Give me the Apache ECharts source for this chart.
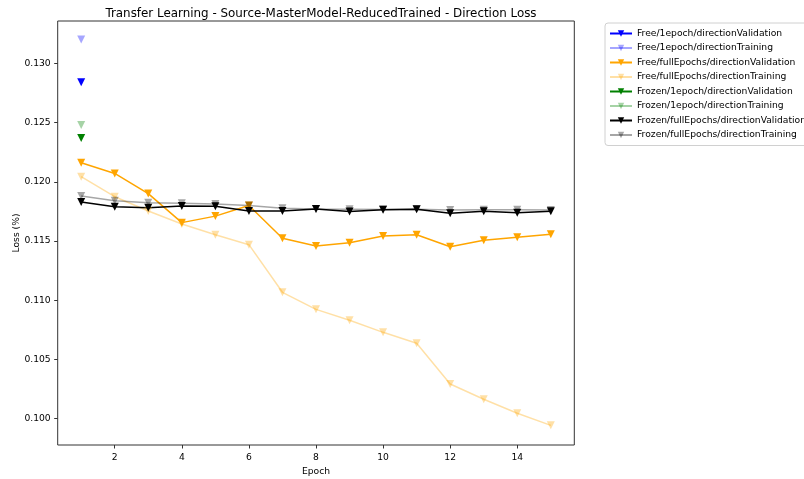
<!DOCTYPE html>
<html>
<head>
<meta charset="utf-8">
<script src="https://cdn.jsdelivr.net/npm/echarts@6/dist/echarts.min.js"></script>
<style>
  html, body { margin: 0; padding: 0; background: #fff; }
  #chart { width: 804px; height: 479px; }
</style>
</head>
<body>
<div id="chart"></div>
<script>
// Epoch numbers and per-run loss values
const epochs = [1, 2, 3, 4, 5, 6, 7, 8, 9, 10, 11, 12, 13, 14, 15];

const free1Validation = [0.1284];
const free1Training = [0.1320];
const freeFullValidation = [0.1216, 0.1207, 0.1190, 0.11655, 0.1171, 0.1180, 0.11523, 0.11458, 0.11486, 0.11542, 0.11553, 0.11452, 0.11506, 0.11531, 0.11557];
const freeFullTraining = [0.12043, 0.11874, 0.11753, 0.11644, 0.11553, 0.11469, 0.11067, 0.10923, 0.10831, 0.10729, 0.10637, 0.10293, 0.10164, 0.10046, 0.09944];
const frozen1Validation = [0.1237];
const frozen1Training = [0.1248];
const frozenFullValidation = [0.11829, 0.1179, 0.11781, 0.11796, 0.11793, 0.11753, 0.11753, 0.1177, 0.11748, 0.11764, 0.11768, 0.11734, 0.11751, 0.11739, 0.11751];
const frozenFullTraining = [0.1188, 0.1184, 0.11823, 0.11818, 0.11812, 0.1180, 0.11776, 0.1177, 0.11768, 0.11766, 0.11768, 0.11762, 0.11764, 0.11764, 0.11762];

const xTicks = [2, 4, 6, 8, 10, 12, 14];
const yTicks = [0.100, 0.105, 0.110, 0.115, 0.120, 0.125, 0.130];

const FONT = 'DejaVu Sans';
const LABEL_SIZE = 9.2;

function pairs(values) {
  return values.map((v, i) => [epochs[i], v]);
}

function lineSeries(name, values, color) {
  return {
    name: name,
    type: 'line',
    data: pairs(values),
    symbol: 'triangle',
    symbolRotate: 180,
    symbolSize: 8,
    showSymbol: true,
    lineStyle: { color: color, width: 1.5 },
    itemStyle: { color: color },
    emphasis: { disabled: true },
    animation: false
  };
}

const series = [
  lineSeries('Free/1epoch/directionValidation', free1Validation, 'rgb(0,0,255)'),
  lineSeries('Free/1epoch/directionTraining', free1Training, 'rgba(0,0,255,0.35)'),
  lineSeries('Free/fullEpochs/directionValidation', freeFullValidation, 'rgb(255,165,0)'),
  lineSeries('Free/fullEpochs/directionTraining', freeFullTraining, 'rgba(255,165,0,0.35)'),
  lineSeries('Frozen/1epoch/directionValidation', frozen1Validation, 'rgb(0,128,0)'),
  lineSeries('Frozen/1epoch/directionTraining', frozen1Training, 'rgba(0,128,0,0.35)'),
  lineSeries('Frozen/fullEpochs/directionValidation', frozenFullValidation, 'rgb(0,0,0)'),
  lineSeries('Frozen/fullEpochs/directionTraining', frozenFullTraining, 'rgba(0,0,0,0.35)')
];

const chart = echarts.init(document.getElementById('chart'), null, { renderer: 'canvas' });

chart.setOption({
  backgroundColor: '#ffffff',
  textStyle: { fontFamily: FONT },
  title: {
    text: 'Transfer Learning - Source-MasterModel-ReducedTrained - Direction Loss',
    left: 316,
    top: 3,
    textAlign: 'center',
    textStyle: { fontFamily: FONT, fontSize: 11.9, fontWeight: 'normal', color: '#000' }
  },
  legend: {
    orient: 'vertical',
    left: 605,
    top: 23,
    itemWidth: 22,
    itemHeight: 8,
    itemGap: 5.5,
    padding: [6, 6, 6, 4],
    borderColor: '#d0d0d0',
    borderWidth: 1,
    borderRadius: 3,
    textStyle: { fontFamily: FONT, fontSize: LABEL_SIZE, color: '#000' },
    data: series.map(s => s.name)
  },
  grid: {
    left: 57.7,
    right: 229.7,
    top: 21,
    bottom: 34,
    show: true,
    borderColor: '#333',
    borderWidth: 1,
    containLabel: false,
    outerBoundsMode: 'none'
  },
  xAxis: {
    type: 'value',
    min: 0.3,
    max: 15.7,
    name: 'Epoch',
    nameLocation: 'middle',
    nameGap: 22,
    nameMoveOverlap: false,
    nameTextStyle: { fontFamily: FONT, fontSize: LABEL_SIZE, color: '#000' },
    axisLine: { show: false },
    axisTick: { show: true, inside: false, length: 3.5, customValues: xTicks, lineStyle: { color: '#333' } },
    axisLabel: { customValues: xTicks, fontFamily: FONT, fontSize: LABEL_SIZE, color: '#000', margin: 8 },
    splitLine: { show: false }
  },
  yAxis: {
    type: 'value',
    min: 0.09778,
    max: 0.13357,
    name: 'Loss (%)',
    nameLocation: 'middle',
    nameGap: 37,
    nameMoveOverlap: false,
    nameTextStyle: { fontFamily: FONT, fontSize: LABEL_SIZE, color: '#000' },
    axisLine: { show: false },
    axisTick: { show: true, inside: false, length: 3.5, customValues: yTicks, lineStyle: { color: '#333' } },
    axisLabel: {
      customValues: yTicks,
      fontFamily: FONT, fontSize: LABEL_SIZE, color: '#000', margin: 7,
      formatter: v => v.toFixed(3)
    },
    splitLine: { show: false }
  },
  series: series
});
</script>
</body>
</html>
